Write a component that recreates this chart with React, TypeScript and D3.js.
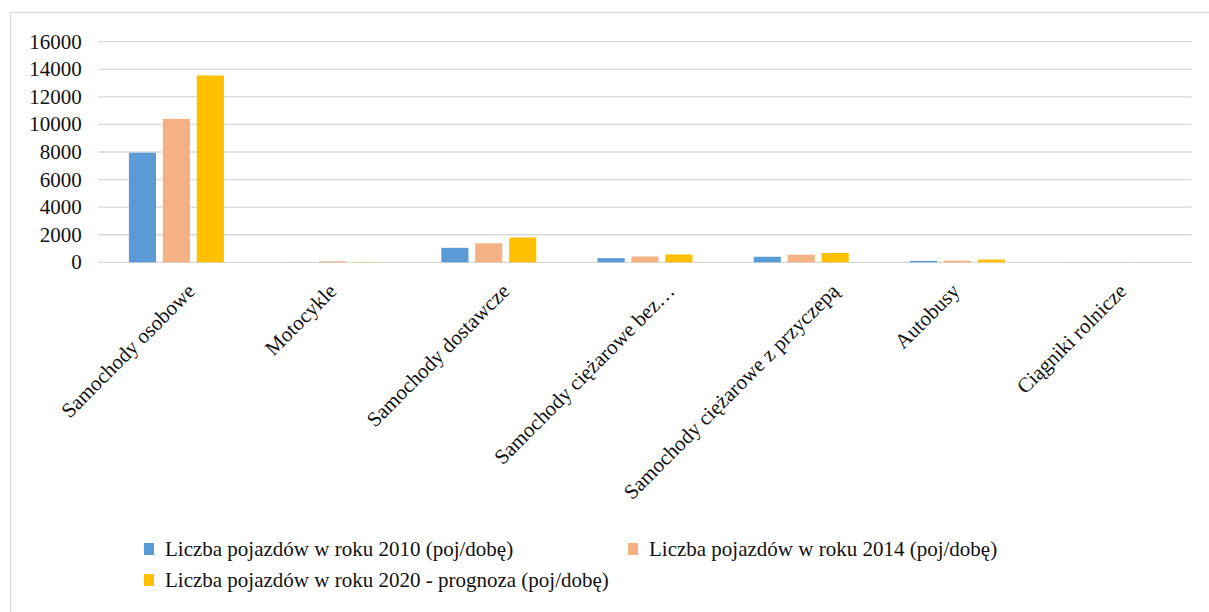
import React from "react";
import * as d3 from "d3";

const categories = [
  "Samochody osobowe",
  "Motocykle",
  "Samochody dostawcze",
  "Samochody ciężarowe bez…",
  "Samochody ciężarowe z przyczepą",
  "Autobusy",
  "Ciągniki rolnicze",
];
const seriesNames = [
  "Liczba pojazdów w roku 2010 (poj/dobę)",
  "Liczba pojazdów w roku 2014 (poj/dobę)",
  "Liczba pojazdów w roku 2020 - prognoza (poj/dobę)",
];
const values2010 = [7950, 10, 1050, 300, 400, 100, 5];
const values2014 = [10400, 70, 1380, 420, 550, 120, 5];
const values2020 = [13550, 15, 1800, 570, 680, 200, 5];
const colors = ["#5B9BD5", "#F4B183", "#FFC000"];
const yTicks = [0, 2000, 4000, 6000, 8000, 10000, 12000, 14000, 16000];

const W = 1209;
const H = 612;
const FONT = "'Liberation Serif', 'Times New Roman', serif";
const FS = 21;

function measure(text: string): number {
  const c = document.createElement("canvas");
  const ctx = c.getContext("2d");
  if (!ctx) return text.length * FS * 0.45;
  ctx.font = `${FS}px 'Liberation Serif'`;
  return ctx.measureText(text).width;
}

export default function App() {
  const series = [values2010, values2014, values2020];
  const left = 98.3;
  const right = 1191.7;
  const top = 41.7;
  const bottom = 262.3;

  const x0 = d3.scaleBand<string>().domain(categories).range([left, right]).paddingInner(0.392).paddingOuter(0.196);
  const x1 = d3.scaleBand<number>().domain([0, 1, 2]).range([0, x0.bandwidth()]).paddingInner(0.2);
  const y = d3.scaleLinear().domain([0, 16000]).range([bottom, top]);

  const legendCols = [144, 628];

  return (
    <svg width={W} height={H} style={{ position: "absolute", left: 0, top: 0, background: "#fff" }}>
      <rect x={10.5} y={12.5} width={W + 10} height={H + 10} fill="#fff" stroke="#D9D9D9" strokeWidth={1} />
      {yTicks.map((t) => (
        <g key={t}>
          <line x1={left} x2={right} y1={y(t)} y2={y(t)} stroke="#D9D9D9" strokeWidth={1.3} />
          <text x={81.7} y={y(t)} dy="0.33em" textAnchor="end" fontFamily={FONT} fontSize={FS} fill="#111">
            {t}
          </text>
        </g>
      ))}
      {categories.map((c, ci) => (
        <g key={c}>
          {series.map((s, si) => (
            <rect
              key={si}
              x={(x0(c) as number) + (x1(si) as number)}
              y={y(s[ci])}
              width={x1.bandwidth()}
              height={bottom - y(s[ci])}
              fill={colors[si]}
            />
          ))}
        </g>
      ))}
      {categories.map((c) => {
        const cx = (x0(c) as number) + x0.bandwidth() / 2;
        const L = measure(c);
        const ax = cx + 0.167 * L - 10;
        const ay = bottom + 30;
        return (
          <text
            key={c}
            x={ax}
            y={ay}
            textAnchor="end"
            transform={`rotate(-45 ${ax} ${ay})`}
            fontFamily={FONT}
            fontSize={FS}
            fill="#111"
          >
            {c}
          </text>
        );
      })}
      {seriesNames.map((n, i) => {
        const lx = legendCols[i % 2];
        const ly = 549 + Math.floor(i / 2) * 31;
        return (
          <g key={n}>
            <rect x={lx} y={ly - 6} width={10} height={12} fill={colors[i]} />
            <text x={lx + 21} y={ly} dy="0.33em" fontFamily={FONT} fontSize={FS} fill="#111">
              {n}
            </text>
          </g>
        );
      })}
    </svg>
  );
}
